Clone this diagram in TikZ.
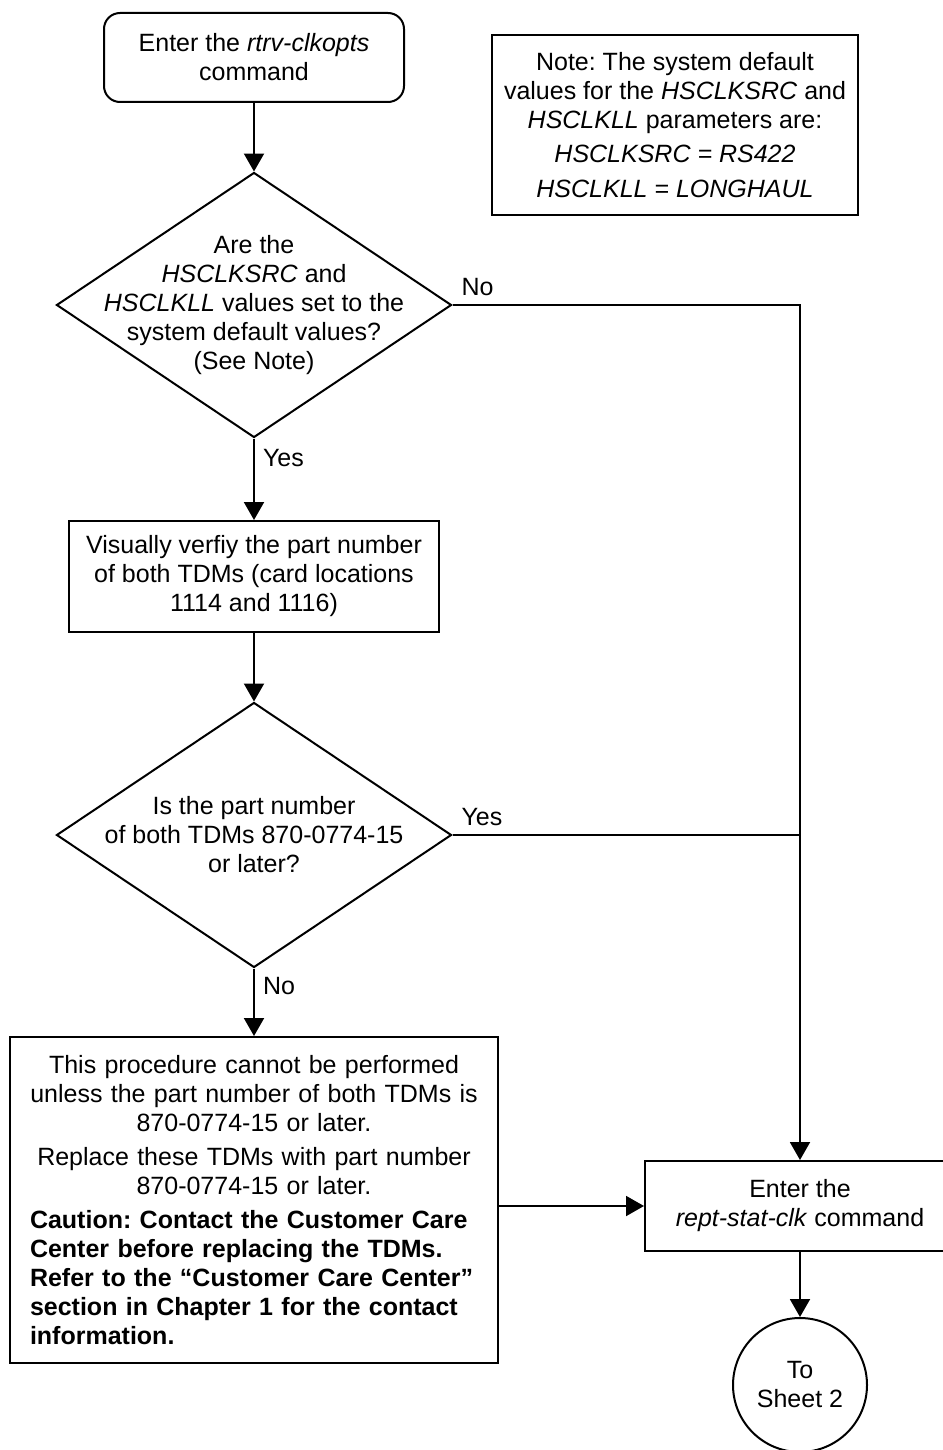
\documentclass[tikz,border=0pt]{standalone}
\usepackage{fontspec}
\setmainfont{Liberation Sans}
\usetikzlibrary{shapes.geometric,arrows.meta}
\frenchspacing
\newcommand{\flowfont}{\fontsize{12.5}{14.5}\selectfont}
\tikzset{
  flow/.style={draw, line width=1pt, font=\flowfont, align=center, inner sep=0pt},
  startbox/.style={flow, rectangle, rounded corners=8pt, minimum width=150pt, minimum height=44.5pt},
  procbox/.style={flow, rectangle},
  notebox/.style={flow, rectangle, minimum width=183pt, minimum height=90pt},
  decision/.style={draw, diamond, line width=1pt, inner sep=0pt,
                   minimum width=197.5pt, minimum height=132.5pt},
  decisiontext/.style={font=\flowfont, align=center, inner sep=0pt},
  sheetcircle/.style={flow, circle, minimum size=67pt},
  answer/.style={font=\flowfont, inner sep=4pt},
  flowline/.style={line width=1pt},
  flowarrow/.style={flowline, -{Triangle[length=9pt,width=10pt]}},
}

\begin{document}
\begin{tikzpicture}[x=0.5pt, y=-0.5pt]
  \useasboundingbox (0,0) rectangle (942,1450);
  % left column
  \node[startbox] (start) at (254,57.5) {Enter the \textit{rtrv-clkopts}\\command};
  \node[decision] (q1) at (254,305) {};
  \node[decisiontext] (q1t) at (q1.center) {Are the\\\textit{HSCLKSRC} and\\\textit{HSCLKLL} values set to the\\system default values?\\(See Note)};
  \node[procbox, minimum width=185pt, minimum height=55.5pt] (verify) at (254,576.5) {Visually verfiy the part number\\of both TDMs (card locations\\1114 and 1116)};
  \node[decision] (q2) at (254,835) {};
  \node[decisiontext] (q2t) at (q2.center) {Is the part number\\of both TDMs 870-0774-15\\or later?};
  \node[procbox, minimum width=244pt, minimum height=163pt, text width=224pt] (replace) at (254,1200) {%
    This procedure cannot be performed\\unless the part number of both TDMs is\\870-0774-15 or later.\par\vspace{2.5pt}
    Replace these TDMs with part number\\870-0774-15 or later.\par\vspace{2.5pt}
    {\raggedright\bfseries Caution: Contact the Customer Care\\Center before replacing the TDMs.\\Refer to the “Customer Care Center”\\section in Chapter 1 for the contact\\information.\par}};
  % right column
  \node[notebox] (note) at (675,125) {Note: The system default\\values for the \textit{HSCLKSRC} and\\\textit{HSCLKLL} parameters are:\\[2.5pt]\textit{HSCLKSRC = RS422}\\[3pt]\textit{HSCLKLL = LONGHAUL}};
  \node[procbox, minimum width=155pt, minimum height=45pt] (clk) at (800,1206) {Enter the\\\textit{rept-stat-clk} command};
  \node[sheetcircle] (sheet) at (800,1385) {To\\Sheet 2};
  \coordinate (join) at (clk.north |- q2.east);

  \draw[flowarrow] (start.south) -- (q1.north);
  \draw[flowarrow] (q1.south) -- node[answer, anchor=west, pos=0.24] {Yes} (verify.north);
  \draw[flowarrow] (q1.east) -| node[answer, anchor=south west, pos=0] {No} (clk.north);
  \draw[flowarrow] (verify.south) -- (q2.north);
  \draw[flowline] (q2.east) -- node[answer, anchor=south west, pos=0] {Yes} (join);
  \draw[flowarrow] (q2.south) -- node[answer, anchor=west, pos=0.26] {No} (replace.north);
  \draw[flowarrow] (replace.east |- clk.west) -- (clk.west);
  \draw[flowarrow] (clk.south) -- (sheet.north);
\end{tikzpicture}
\end{document}
